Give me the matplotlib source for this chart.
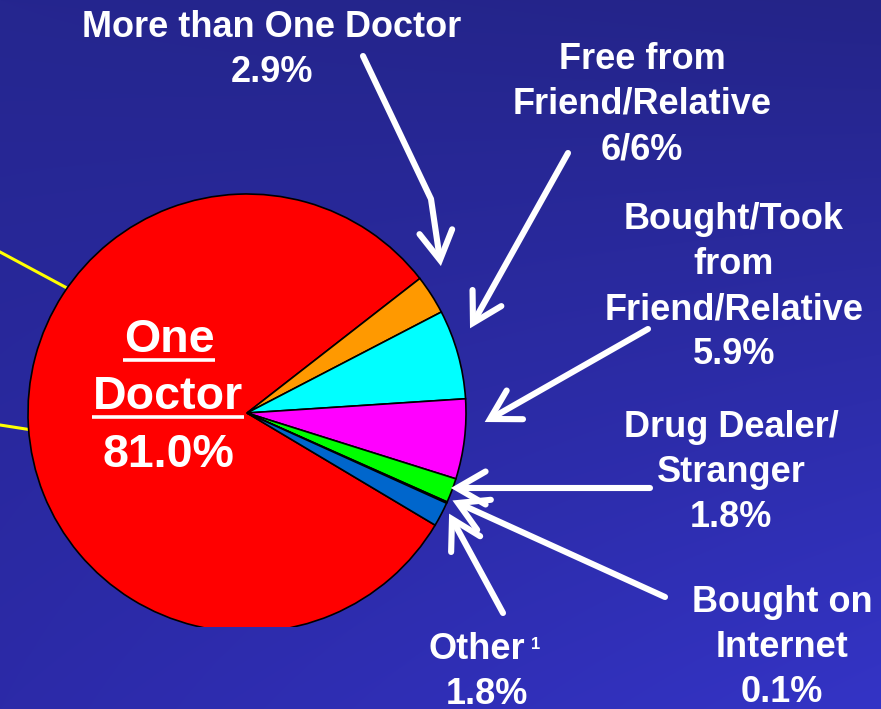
import numpy as np
import matplotlib
matplotlib.use("Agg")
import matplotlib.pyplot as plt

# ---------------- data ----------------
categories = ["One Doctor", "More than One Doctor", "Free from Friend/Relative",
              "Bought/Took from Friend/Relative", "Drug Dealer/Stranger",
              "Bought on Internet", "Other"]
values = [81.0, 2.9, 6.6, 5.9, 1.8, 0.1, 1.8]
pct_labels = ["81.0%", "2.9%", "6/6%", "5.9%", "1.8%", "0.1%", "1.8%"]
label_lines = [
    ["One", "Doctor"],
    ["More than One Doctor"],
    ["Free from", "Friend/Relative"],
    ["Bought/Took", "from", "Friend/Relative"],
    ["Drug Dealer/", "Stranger"],
    ["Bought on", "Internet"],
    ["Other"],
]
colors = ["#ff0000", "#ff9900", "#00ffff", "#ff00ff", "#00ff00", "#ffff00", "#0066cc"]

W, H = 881, 709
FONT = "Liberation Sans"

fig = plt.figure(figsize=(W / 100, H / 100), dpi=100)

# ---------------- background gradient ----------------
bg = fig.add_axes([0, 0, 1, 1], zorder=0)
tl = np.array([37, 38, 143]); tr = np.array([36, 36, 136])
bl = np.array([44, 42, 168]); br = np.array([52, 52, 198])
yy, xx = np.mgrid[0:1:H * 1j, 0:1:W * 1j]
img = (tl[None, None, :] * ((1 - xx) * (1 - yy))[..., None]
       + tr[None, None, :] * (xx * (1 - yy))[..., None]
       + bl[None, None, :] * ((1 - xx) * yy)[..., None]
       + br[None, None, :] * (xx * yy)[..., None]) / 255.0
bg.imshow(img, extent=(0, W, H, 0), aspect="auto", interpolation="bilinear")
bg.set_xlim(0, W); bg.set_ylim(H, 0)
bg.axis("off")

# ---------------- pie (clipped at bottom) ----------------
clip_bottom = 627  # image y where the pie is cut
pax = fig.add_axes([0, (H - clip_bottom) / H, 1, clip_bottom / H], zorder=1)
pax.patch.set_alpha(0)
cx, cy, r = 247, H - 413, 219

# yellow leader lines behind the pie
pax.plot([0, 80], [H - 252, H - 295], color="#ffff00", lw=2.2, zorder=1)
pax.plot([0, 45], [H - 425, H - 432], color="#ffff00", lw=2.2, zorder=1)

wedges, _ = pax.pie(values, colors=colors, startangle=-30.8, counterclock=False,
                    center=(cx, cy), radius=r,
                    wedgeprops=dict(edgecolor="black", linewidth=1.2, zorder=2))
pax.set_xlim(0, W)
pax.set_ylim(H - clip_bottom, H)
pax.set_aspect("auto")
pax.axis("off")
for w in wedges:
    w.set_clip_on(True)
    w.set_clip_path(pax.patch)

# ---------------- overlay: text and arrows (image coordinates) ----------------
ov = fig.add_axes([0, 0, 1, 1], zorder=3)
ov.patch.set_alpha(0)
ov.set_xlim(0, W); ov.set_ylim(H, 0)
ov.axis("off")

LS = 45  # line step in pixels
label_pos = [None, (272, 37), (642, 69), (734, 229), (731, 437), (782, 612), (487, 659)]

for i in range(1, 6):
    x, y0 = label_pos[i]
    lines = label_lines[i] + [pct_labels[i]]
    for k, s in enumerate(lines):
        ov.text(x, y0 + k * LS, s, ha="center", va="baseline", color="white",
                fontsize=26, fontweight="bold", family=FONT)

# "Other" with superscript footnote
ox, oy = label_pos[6]
ov.text(428, oy, label_lines[6][0], ha="left", va="baseline", color="white",
        fontsize=26, fontweight="bold", family=FONT)
ov.text(531, oy - 10, "1", ha="left", va="baseline", color="white",
        fontsize=12, fontweight="bold", family=FONT)
ov.text(ox, oy + LS, pct_labels[6], ha="center", va="baseline", color="white",
        fontsize=26, fontweight="bold", family=FONT)

# inner label "One Doctor 81.0%"
inner = []
inner.append(ov.text(169, 352, label_lines[0][0], ha="center", va="baseline",
                     color="white", fontsize=33.5, fontweight="bold", family=FONT))
inner.append(ov.text(168, 409, label_lines[0][1], ha="center", va="baseline",
                     color="white", fontsize=33.5, fontweight="bold", family=FONT))
ov.text(168, 467, pct_labels[0], ha="center", va="baseline",
        color="white", fontsize=33.5, fontweight="bold", family=FONT)
fig.canvas.draw()
renderer = fig.canvas.get_renderer()
for t, uy in zip(inner, [360, 417]):
    bb = t.get_window_extent(renderer)
    ov.plot([bb.x0 - 1, bb.x1 + 1], [uy, uy], color="white", lw=2.6,
            solid_capstyle="butt")

# arrows: polyline from label toward the wedge, chevron head at the tip
arrows = [
    [(363, 56), (431, 199), (440, 260)],
    [(568, 153), (473, 323)],
    [(648, 329), (490, 419)],
    [(650, 488), (457, 488)],
    [(665, 597), (458, 503)],
    [(503, 613), (452, 519)],
]
LW = 4.4
ARM = 33
ANG = np.deg2rad(30)


def rot(v, a):
    return np.array([v[0] * np.cos(a) - v[1] * np.sin(a),
                     v[0] * np.sin(a) + v[1] * np.cos(a)])


for pts in arrows:
    p = np.array(pts, dtype=float)
    tip = p[-1]
    d = p[-2] - tip
    d /= np.hypot(*d)
    shaft = p.copy()
    shaft[-1] = tip + d * 3
    ov.plot(shaft[:, 0], shaft[:, 1], color="white", lw=LW,
            solid_capstyle="round", solid_joinstyle="round")
    a1 = tip + rot(d, ANG) * ARM
    a2 = tip + rot(d, -ANG) * ARM
    ov.plot([a1[0], tip[0], a2[0]], [a1[1], tip[1], a2[1]], color="white", lw=LW,
            solid_capstyle="round", solid_joinstyle="miter")

fig.savefig("out.png", dpi=100)
